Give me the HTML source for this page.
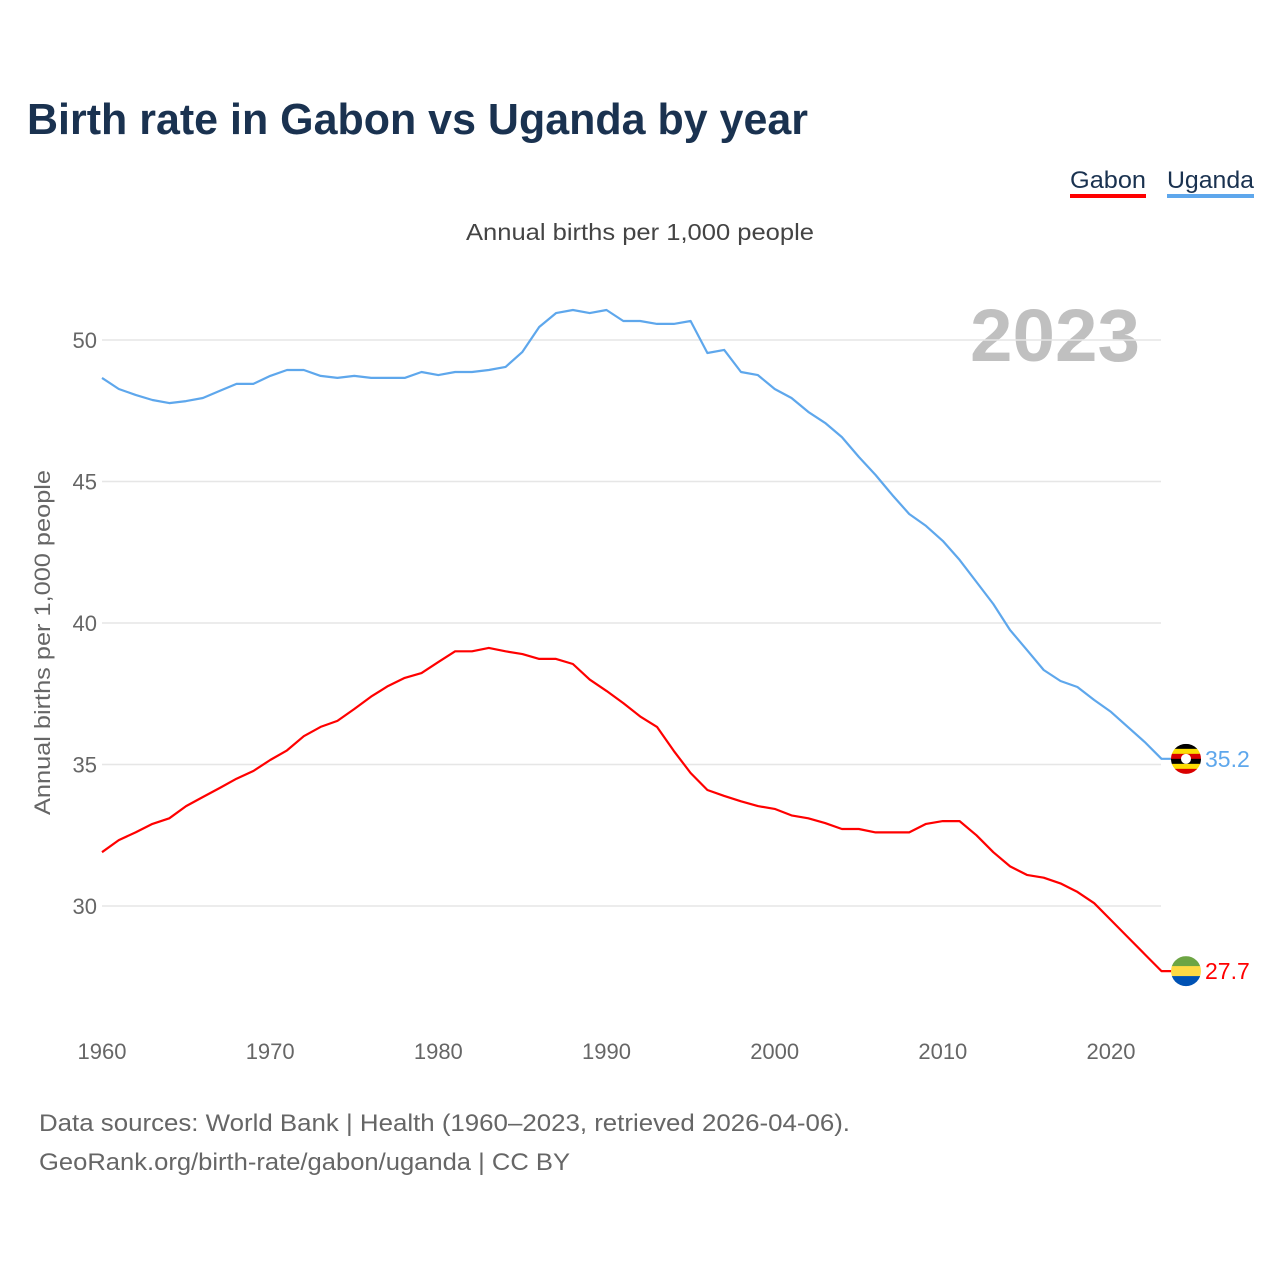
<!DOCTYPE html>
<html><head><meta charset="utf-8"><style>
body{margin:0;background:#fff;width:1280px;height:1280px;overflow:hidden;font-family:"Liberation Sans",sans-serif}
</style></head><body>
<svg width="1280" height="1280" xmlns="http://www.w3.org/2000/svg">
<text x="27" y="134" font-size="44" font-weight="bold" fill="#1a3250" textLength="781" lengthAdjust="spacingAndGlyphs">Birth rate in Gabon vs Uganda by year</text>
<g><text x="1070" y="188" font-size="24" fill="#1a3250" textLength="76" lengthAdjust="spacingAndGlyphs">Gabon</text><rect x="1070" y="194" width="76" height="4" fill="#ff0000"/></g>
<g><text x="1167" y="188" font-size="24" fill="#1a3250" textLength="87" lengthAdjust="spacingAndGlyphs">Uganda</text><rect x="1167" y="194" width="87" height="4" fill="#5ea7ec"/></g>
<text x="466" y="240" font-size="23" fill="#444" textLength="348" lengthAdjust="spacingAndGlyphs">Annual births per 1,000 people</text>
<text x="970" y="361" font-size="74" font-weight="bold" fill="#c0c0c0" textLength="170" lengthAdjust="spacingAndGlyphs">2023</text>
<text transform="translate(50,815) rotate(-90)" font-size="22" fill="#666" textLength="345" lengthAdjust="spacingAndGlyphs">Annual births per 1,000 people</text>
<g id="grid"></g><g id="xt"></g><g id="lines"></g>
<text x="39" y="1131" font-size="24" fill="#666" textLength="811" lengthAdjust="spacingAndGlyphs">Data sources: World Bank | Health (1960–2023, retrieved 2026-04-06).</text>
<text x="39" y="1170" font-size="24" fill="#666" textLength="531" lengthAdjust="spacingAndGlyphs">GeoRank.org/birth-rate/gabon/uganda | CC BY</text>
</svg>
<script>
const years=[];for(let y=1960;y<=2023;y++)years.push(y);
const uganda=[48.66,48.27,48.06,47.88,47.77,47.84,47.95,48.2,48.45,48.45,48.73,48.94,48.94,48.73,48.66,48.73,48.66,48.66,48.66,48.87,48.76,48.87,48.87,48.94,49.05,49.58,50.46,50.95,51.06,50.95,51.06,50.67,50.67,50.57,50.57,50.67,49.54,49.65,48.87,48.76,48.27,47.95,47.46,47.07,46.57,45.87,45.23,44.52,43.85,43.43,42.9,42.23,41.45,40.67,39.75,39.05,38.34,37.95,37.74,37.28,36.86,36.33,35.8,35.2];
const gabon=[31.9,32.33,32.6,32.9,33.1,33.53,33.85,34.17,34.5,34.77,35.16,35.5,36.0,36.33,36.54,36.96,37.4,37.77,38.06,38.23,38.62,39.0,39.0,39.12,39.0,38.9,38.73,38.73,38.55,38.0,37.6,37.17,36.7,36.33,35.48,34.7,34.1,33.89,33.7,33.53,33.43,33.2,33.1,32.93,32.72,32.72,32.6,32.6,32.6,32.9,33.0,33.0,32.5,31.9,31.4,31.1,31.0,30.8,30.5,30.1,29.5,28.9,28.3,27.7];
const yTicks=[30,35,40,45,50];
const xTicks=[1960,1970,1980,1990,2000,2010,2020];
const X=y=>102+(y-1960)*1009/60, Y=v=>340+(50-v)*28.3;
const NS="http://www.w3.org/2000/svg";
function mk(t,a,p){const e=document.createElementNS(NS,t);for(const k in a)e.setAttribute(k,a[k]);p.appendChild(e);return e;}
const g=document.getElementById('grid');
yTicks.forEach(v=>{
 const l=mk('line',{x1:102,x2:1161,y1:Y(v),y2:Y(v),stroke:'#e6e6e6','stroke-width':1.5},g);
 
 
 const t=mk('text',{x:97,y:Y(v)+8,'font-size':22,fill:'#666','text-anchor':'end'},g);t.textContent=v;
 
 
});
const xt=document.getElementById('xt');
xTicks.forEach(v=>{
 const t=mk('text',{x:X(v),y:1059,'font-size':22,fill:'#666','text-anchor':'middle'},xt);t.textContent=v;
 
 
});
const L=document.getElementById('lines');
function series(data,color,name){
 let d=data.map((v,i)=>(i?'L':'M')+X(years[i]).toFixed(1)+' '+Y(v).toFixed(1)).join(' ');
 d+=' L1172 '+Y(data[data.length-1]).toFixed(1);
 const p=mk('path',{d,fill:'none',stroke:color,'stroke-width':2.2,'stroke-linejoin':'round'},L);
 
 
 const last=data[data.length-1];
 const t=mk('text',{x:1205,y:Y(last)+8,'font-size':23,fill:color},L);t.textContent=last.toFixed(1);
 
 
 return Y(last);
}
const yu=series(uganda,'#5ea7ec','uganda');
const yg=series(gabon,'#ff0000','gabon');
function flag(cy,stripes,name){
 const cx=1186,r=15;const grp=mk('g',{},L);
 
 
 const id='c'+name;const cp=mk('clipPath',{id},grp);mk('circle',{cx,cy,r},cp);
 const h=2*r/stripes.length;
 stripes.forEach((c,i)=>mk('rect',{x:cx-r,y:cy-r+i*h,width:2*r,height:h+0.5,fill:c,'clip-path':'url(#'+id+')'},grp));
 return grp;
}
const ug=flag(yu,['#000','#fcdc04','#d90000','#000','#fcdc04','#d90000'],'uganda');
mk('circle',{cx:1186,cy:yu,r:5,fill:'#fff'},ug);
flag(yg,['#6da544','#6da544','#ffda44','#ffda44','#0052b4','#0052b4'],'gabon');
</script>
</body></html>
